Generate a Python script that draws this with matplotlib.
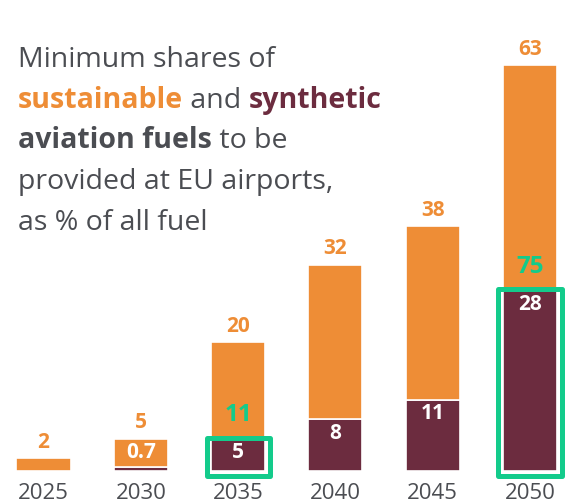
import matplotlib
matplotlib.use('Agg')
import matplotlib.pyplot as plt
from matplotlib.patches import Rectangle


COLORS = {
    'orange': '#EE8D36',
    'maroon': '#6C2C3F',
    'green': '#13CB8B',
    'cream': '#FDF2EA',
    'text': '#4B4D52',
}

years = ['2025', '2030', '2035', '2040', '2045', '2050']
total_share = [2, 5, 20, 32, 38, 63]          # sustainable fuels, % of all fuel
synthetic_share = [0, 0.7, 5, 8, 11, 28]      # of which synthetic
synthetic_labels = ['', '0.7', '5', '8', '11', '28']
total_labels = ['2', '5', '20', '32', '38', '63']

# green overlay marks on the original picture
marked_years = ['2035', '2050']
marked_labels = ['11', '75']

plt.rcParams['font.family'] = ['Open Sans', 'DejaVu Sans']

fig = plt.figure(figsize=(5.7, 5.0), dpi=100)
fig.patch.set_facecolor('white')
ax = fig.add_axes([0, 0, 1, 493 / 500])
ax.set_facecolor(COLORS['cream'])
ax.set_xlim(-0.447, 5.41)
ax.set_ylim(-4.5, 72.05)
ax.axis('off')
ax.patch.set_visible(True)

x = list(range(len(years)))
orange_part = [t - s for t, s in zip(total_share, synthetic_share)]
width = 0.555

ax.bar(x, synthetic_share, width=width, color=COLORS['maroon'],
       edgecolor='white', linewidth=1.2)
ax.bar(x, orange_part, width=width, bottom=synthetic_share,
       color=COLORS['orange'], edgecolor='white', linewidth=1.2)

for i, (t, s) in enumerate(zip(total_share, synthetic_share)):
    ax.text(i, t + 2.5, total_labels[i], ha='center', va='center',
            fontsize=15, fontweight='bold', color=COLORS['orange'])
    if synthetic_labels[i]:
        y_in = (s if s >= 3 else t) - 2.1
        ax.text(i, y_in, synthetic_labels[i], ha='center', va='center',
                fontsize=15, fontweight='bold', color='white')
    ax.text(i, -4.3, years[i], ha='center', va='baseline',
            fontsize=16, color=COLORS['text'])

for yr, lab in zip(marked_years, marked_labels):
    i = years.index(yr)
    s = synthetic_share[i]
    ax.add_patch(Rectangle((i - 0.325, -0.85), 0.65, s + 1.05, fill=False,
                           edgecolor=COLORS['green'], linewidth=3.6,
                           joinstyle='round', zorder=5))
    ax.text(i, s + 3.7, lab, ha='center', va='center', fontsize=17.5,
            fontweight='bold', color=COLORS['green'], zorder=6)

# title with coloured words, line by line
title_lines = [
    [('Minimum shares of', COLORS['text'], 'normal')],
    [('sustainable', COLORS['orange'], 'bold'), (' and ', COLORS['text'], 'normal'),
     ('synthetic', COLORS['maroon'], 'bold')],
    [('aviation fuels', COLORS['text'], 'bold'), (' to be', COLORS['text'], 'normal')],
    [('provided at EU airports,', COLORS['text'], 'normal')],
    [('as % of all fuel', COLORS['text'], 'normal')],
]
x0 = 18 / 570
y0 = 1 - 67 / 500
step = 40.75 / 500
for n, pieces in enumerate(title_lines):
    for k, (txt, col, wt) in enumerate(pieces):
        fig.text(x0 if k == 0 else 0, y0 - n * step, txt, color=col,
                 fontweight=wt, fontsize=20.5, ha='left', va='baseline')

fig.canvas.draw()
# position the follow-on pieces right after the previous one
r = fig.canvas.get_renderer()
texts = fig.texts
idx = 0
for n, pieces in enumerate(title_lines):
    cur_x = texts[idx].get_window_extent(r).x1
    idx += 1
    for _ in pieces[1:]:
        t = texts[idx]
        t.set_position((cur_x / fig.bbox.width, y0 - n * step))
        cur_x = t.get_window_extent(r).x1
        idx += 1

fig.savefig('out.png', dpi=100, facecolor='white')
